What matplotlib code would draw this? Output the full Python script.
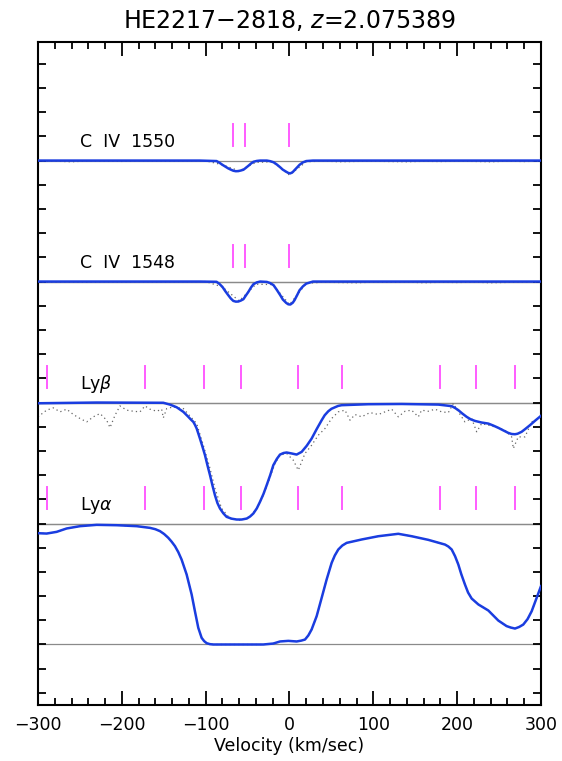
import numpy as np
import matplotlib
matplotlib.use("Agg")
import matplotlib.pyplot as plt
from matplotlib.ticker import MultipleLocator, NullFormatter

# --- fitted profiles (velocity in km/s, normalised flux) ---
civ_fit_v = [-300, -107, -87, -83.5, -80, -76.5, -73, -70, -67, -64, -61, -58, -55, -52, -49, -46, -43,
             -39, -35, -27, -23, -19, -15, -11, -8, -4, -1.5, 1, 3.9, 6, 9.3, 12, 16, 20, 28, 300]
civ1550_fit = [1.0, 1.0, 0.996, 0.982, 0.965, 0.95, 0.935, 0.925, 0.916, 0.912, 0.913, 0.918, 0.924,
               0.94, 0.957, 0.975, 0.99, 0.997, 1.0, 1.0, 0.995, 0.986, 0.967, 0.944, 0.925, 0.908,
               0.898, 0.894, 0.905, 0.921, 0.945, 0.965, 0.985, 0.996, 1.0, 1.0]
civ1548_fit = [1.0, 1.0, 0.998, 0.98, 0.956, 0.92, 0.887, 0.86, 0.840, 0.834, 0.835, 0.843, 0.854,
               0.885, 0.915, 0.95, 0.978, 0.993, 1.0, 0.997, 0.987, 0.970, 0.93, 0.887, 0.852, 0.824,
               0.812, 0.810, 0.825, 0.846, 0.89, 0.928, 0.96, 0.983, 1.0, 1.0]

# --- observed pixels for the C IV lines ---
civ_pix_v = [-300, -280, -260, -240, -220, -200, -180, -160, -140, -120, -100, -80, -60, -40, -20,
             0, 20, 40, 60, 80, 100, 120, 140, 160, 180, 200, 220, 240, 260, 280, 300]
civ1550_pix = [0.998, 0.995, 0.99, 0.997, 0.995, 0.993, 0.998, 0.996, 0.995, 0.997, 0.998, 0.965, 0.915,
               0.985, 0.99, 0.88, 0.99, 0.996, 0.99, 0.993, 0.995, 0.992, 0.99, 0.994, 0.992, 0.995,
               0.993, 0.99, 0.995, 0.992, 0.996]
civ1548_pix = [0.997, 0.994, 0.996, 0.993, 0.997, 0.995, 0.998, 0.996, 0.997, 0.998, 1.0, 0.955, 0.84,
               0.978, 0.975, 0.81, 0.985, 0.995, 0.992, 0.99, 0.995, 0.993, 0.996, 0.99, 0.994, 0.992,
               0.995, 0.99, 0.993, 0.995, 0.996]

lyb_v = [-300, -230, -150.5, -142.6, -134.6, -126.6, -120.7, -118, -114.7, -112.7, -110.7, -108.8,
         -106.8, -103.8, -100.8, -97.8, -94.8, -91.9, -88.9, -86, -82.9, -79, -75, -69, -63, -57, -51,
         -47, -43.1, -39, -35.2, -31, -27.2, -23, -19.3, -15, -11.3, -7, -3.4, 2.6, 8.5, 14.5, 20.5,
         26.4, 32.4, 38.4, 42, 46.3, 50, 54.3, 58, 62.2, 94.1, 133.8, 177.6, 193.5, 197.5, 201.4, 206,
         211.3, 216, 221.3, 229, 237.2, 243, 249.1, 255, 261, 265, 269, 272, 276.9, 281, 286.9, 293, 300]
lyb_fit = [0.994, 1.0, 0.998, 0.983, 0.961, 0.923, 0.882, 0.862, 0.840, 0.815, 0.785, 0.745, 0.702,
           0.635, 0.565, 0.48, 0.399, 0.315, 0.234, 0.17, 0.124, 0.085, 0.055, 0.04, 0.033, 0.033,
           0.041, 0.058, 0.083, 0.125, 0.179, 0.245, 0.317, 0.40, 0.482, 0.535, 0.570, 0.583, 0.587,
           0.579, 0.570, 0.592, 0.642, 0.702, 0.780, 0.854, 0.895, 0.928, 0.948, 0.961, 0.972, 0.978,
           0.986, 0.988, 0.983, 0.970, 0.955, 0.937, 0.91, 0.882, 0.862, 0.848, 0.835, 0.826, 0.81,
           0.791, 0.77, 0.749, 0.74, 0.738, 0.742, 0.758, 0.78, 0.813, 0.85, 0.890]

lyb_pix_v = [-300, -297.6, -289.7, -281.7, -273.7, -265.8, -257.8, -249.9, -241.9, -234.0, -226.0, -218.1,
             -214.1, -208.1, -202.2, -194.2, -186.3, -178.3, -172.4, -166.4, -158.4, -152.5, -150.5,
             -146.5, -138.6, -126.6, -110.7, -102.8, -94.8, -88.9, -80.9, -71.0, -59.0, -47.1, -39.2,
             -31.2, -25.2, -17.3, -11.3, -3.4, -1.4, 4.6, 8.5, 10.5, 14.5, 18.5, 26.4, 34.4, 42.3, 50.3,
             58.2, 66.2, 72.2, 78.1, 86.1, 96.0, 106.0, 113.9, 121.9, 129.8, 137.8, 145.7, 153.7, 157.6,
             165.6, 173.6, 181.5, 189.5, 195.4, 201.4, 209.3, 217.3, 223.3, 229.2, 237.2, 249.1, 257.0,
             265.0, 267.0, 272.9, 280.9, 288.9, 296.8]
lyb_pix = [0.88, 0.895, 0.937, 0.956, 0.923, 0.945, 0.901, 0.868, 0.840, 0.882, 0.909, 0.854, 0.793,
           0.895, 0.972, 0.937, 0.928, 0.923, 0.972, 0.945, 0.928, 0.945, 0.873, 0.950, 0.964, 0.950,
           0.826, 0.647, 0.455, 0.289, 0.124, 0.041, 0.028, 0.055, 0.124, 0.234, 0.344, 0.496, 0.565,
           0.579, 0.565, 0.523, 0.468, 0.441, 0.510, 0.579, 0.647, 0.730, 0.785, 0.868, 0.923, 0.937,
           0.854, 0.901, 0.882, 0.917, 0.901, 0.923, 0.945, 0.882, 0.928, 0.937, 0.882, 0.937, 0.928,
           0.945, 0.923, 0.917, 0.992, 0.923, 0.840, 0.868, 0.758, 0.826, 0.813, 0.791, 0.771, 0.716,
           0.620, 0.716, 0.716, 0.840, 0.868]

lya_v = [-300, -289.7, -277.8, -265.8, -249.9, -230, -206.2, -182.3, -166.4, -160, -154.5, -149.5,
         -144.6, -140.6, -136.6, -132.6, -128.7, -122.7, -116.7, -112.8, -108.8, -104.8, -101.8, -98.8,
         -95, -90.9, -31.2, -19.3, -11.3, -1.4, 8.5, 14, 18.5, 22.5, 26.4, 32.4, 38.4, 44.3, 50.3, 54,
         58.2, 63, 68.2, 86.1, 106, 129.8, 145.7, 165.6, 185.5, 189.5, 193.5, 197.5, 201.4, 205, 209.3,
         213, 217.3, 225.3, 237.2, 249.1, 259.0, 264, 269.0, 274, 278.9, 284, 288.9, 294, 300]
lya_fit = [0.92, 0.917, 0.931, 0.959, 0.978, 0.989, 0.986, 0.978, 0.964, 0.953, 0.937, 0.913, 0.882,
           0.850, 0.813, 0.763, 0.702, 0.579, 0.413, 0.275, 0.138, 0.055, 0.028, 0.011, 0.003, 0.0,
           0.0, 0.008, 0.025, 0.030, 0.025, 0.032, 0.041, 0.075, 0.124, 0.234, 0.386, 0.537, 0.675,
           0.735, 0.785, 0.818, 0.840, 0.868, 0.895, 0.915, 0.895, 0.865, 0.826, 0.81, 0.785, 0.73,
           0.661, 0.58, 0.496, 0.43, 0.380, 0.331, 0.281, 0.198, 0.152, 0.14, 0.132, 0.145, 0.165,
           0.21, 0.275, 0.37, 0.482]

# component velocities marked above each line
civ_comps = [-67, -53, 0]
hi_comps = [-289, -172, -102, -58, 10, 63, 180, 222, 269]

# (label, offset, fit velocity, fit flux, pixel velocity, pixel flux, components)
panels = [
    ("Ly$\\alpha$", 0.0, lya_v, lya_fit, lya_v, lya_fit, hi_comps),
    ("Ly$\\beta$", 1.0, lyb_v, lyb_fit, lyb_pix_v, lyb_pix, hi_comps),
    ("C  IV  1548", 2.0, civ_fit_v, civ1548_fit, civ_pix_v, civ1548_pix, civ_comps),
    ("C  IV  1550", 3.0, civ_fit_v, civ1550_fit, civ_pix_v, civ1550_pix, civ_comps),
]

fig = plt.figure(figsize=(5.62, 7.61), dpi=100)
ax = fig.add_axes([0.0676, 0.0736, 0.8950, 0.8712])

for label, off, fv, ff, pv, pf, comps in panels:
    ax.axhline(off, color="#8a8a8a", lw=0.9, zorder=1)
    ax.axhline(off + 1.0, color="#8a8a8a", lw=0.9, zorder=1)
    ax.plot(pv, np.array(pf) + off, color="#666666", ls=(0, (1, 2.5)), lw=0.9, zorder=2)
    ax.plot(fv, np.array(ff) + off, color="#1a3de0", lw=1.8, zorder=3,
            solid_joinstyle="round")
    for c in comps:
        ax.plot([c, c], [off + 1.12, off + 1.30], color="#ff5cff", lw=1.4, zorder=4)
    ax.text(-250, off + 1.15, label, fontsize=12.5, ha="left", va="center")

ax.set_xlim(-300, 300)
ax.set_ylim(-0.5, 4.98)
ax.xaxis.set_major_locator(MultipleLocator(100))
ax.xaxis.set_minor_locator(MultipleLocator(20))
ax.yaxis.set_major_locator(MultipleLocator(0.2))
ax.yaxis.set_major_formatter(NullFormatter())
ax.tick_params(axis="both", which="both", direction="in", top=True, right=True, width=1.3)
ax.tick_params(axis="x", which="major", length=10, labelsize=12.5, pad=8)
ax.tick_params(axis="x", which="minor", length=5)
ax.tick_params(axis="y", which="major", length=6)
for s in ax.spines.values():
    s.set_linewidth(1.5)

ax.set_xlabel("Velocity (km/sec)", fontsize=12.5, labelpad=2)
ax.set_title("HE2217\u22122818, $z$=2.075389", fontsize=17, pad=10)

fig.savefig("out.png", dpi=100)
